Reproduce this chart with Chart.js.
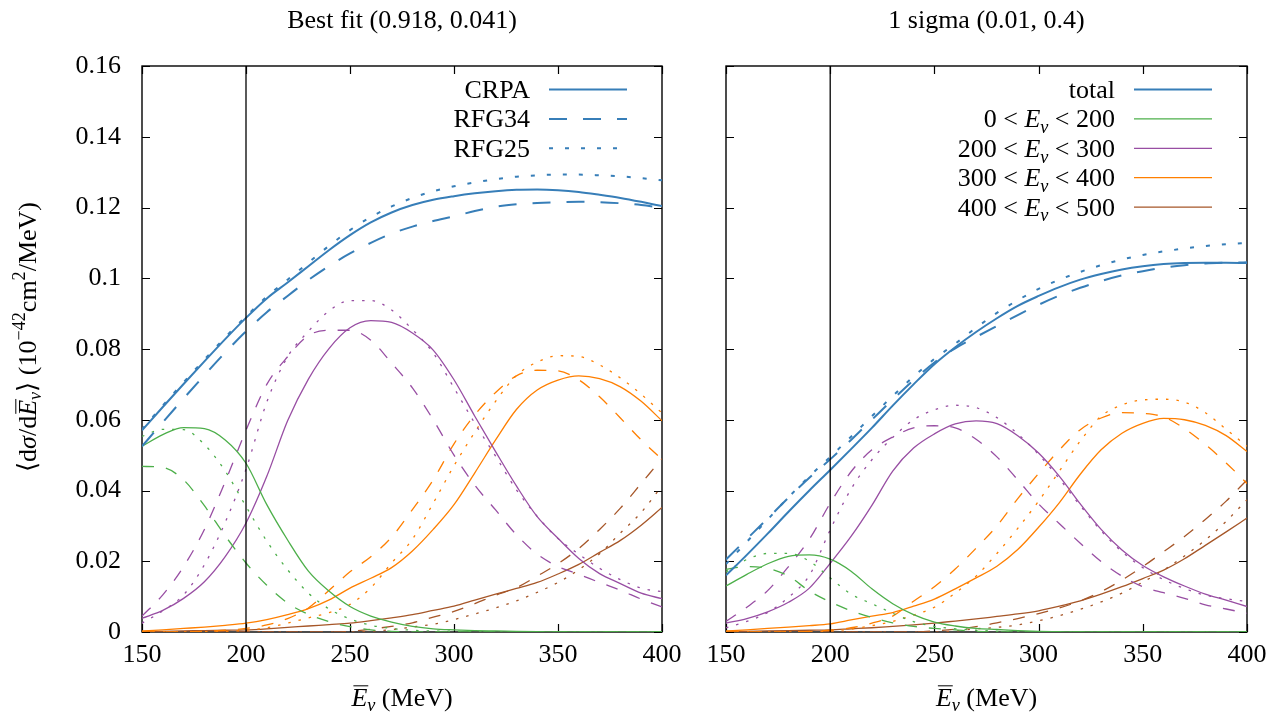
<!DOCTYPE html>
<html>
<head>
<meta charset="utf-8">
<script src="https://cdn.jsdelivr.net/npm/chart.js@4.4.1/dist/chart.umd.min.js"></script>
<style>
  html, body { margin: 0; padding: 0; background: #fff; }
  #wrap { position: relative; width: 1278px; height: 717px; }
  #wrap canvas { position: absolute; left: 0; top: 0; }
</style>
</head>
<body>
<div id="wrap">
  <canvas id="left" width="1278" height="717"></canvas>
  <canvas id="right" width="1278" height="717"></canvas>
</div>
<script>
// MARK: Data
const energies = [150, 160, 170, 180, 190, 200, 210, 220, 230, 240, 250, 260, 270,
  280, 290, 300, 310, 320, 330, 340, 350, 360, 370, 380, 390, 400];
const xTickLabels = ['150', '200', '250', '300', '350', '400'];
const yTickLabels = ['0', '0.02', '0.04', '0.06', '0.08', '0.1', '0.12', '0.14', '0.16'];
const markerEnergy = 200;

// Best fit (0.918, 0.041)
const bestTotCRPA = [0.0570, 0.0636, 0.0701, 0.0765, 0.0828, 0.0888, 0.0943, 0.0988, 0.1034, 0.1080, 0.1122, 0.1158, 0.1186, 0.1207, 0.1222, 0.1232, 0.1240, 0.1246, 0.1250, 0.1251, 0.1249, 0.1244, 0.1236, 0.1227, 0.1216, 0.1204];
const bestTotRFG34 = [0.0525, 0.0593, 0.0660, 0.0726, 0.0790, 0.0850, 0.0904, 0.0950, 0.0995, 0.1035, 0.1070, 0.1100, 0.1126, 0.1146, 0.1162, 0.1175, 0.1190, 0.1202, 0.1209, 0.1213, 0.1215, 0.1216, 0.1215, 0.1212, 0.1207, 0.1199];
const bestTotRFG25 = [0.0573, 0.0640, 0.0706, 0.0770, 0.0833, 0.0892, 0.0948, 0.0996, 0.1044, 0.1092, 0.1136, 0.1173, 0.1203, 0.1227, 0.1246, 0.1260, 0.1271, 0.1280, 0.1287, 0.1291, 0.1293, 0.1293, 0.1291, 0.1288, 0.1283, 0.1277];

const best0CRPA = [0.0525, 0.0558, 0.0578, 0.0575, 0.0543, 0.0477, 0.0360, 0.0260, 0.0172, 0.0115, 0.0072, 0.0045, 0.0028, 0.0016, 0.0009, 0.0006, 0.0004, 0.0003, 0.0002, 0.0001, 0, 0, 0, 0, 0, 0];
const best0RFG34 = [0.0468, 0.0465, 0.0430, 0.0357, 0.0272, 0.0195, 0.0132, 0.0082, 0.0050, 0.0029, 0.0015, 0.0006, 0.0002, 0, 0, 0, 0, 0, 0, 0, 0, 0, 0, 0, 0, 0];
const best0RFG25 = [0.0553, 0.0573, 0.0572, 0.0530, 0.0455, 0.0355, 0.0257, 0.0176, 0.0110, 0.0065, 0.0037, 0.0019, 0.0010, 0.0005, 0.0003, 0.0002, 0.0001, 0, 0, 0, 0, 0, 0, 0, 0, 0];

const best1CRPA = [0.0039, 0.0061, 0.0095, 0.0142, 0.0213, 0.0308, 0.0440, 0.0597, 0.0715, 0.0802, 0.0860, 0.0880, 0.0875, 0.0845, 0.0797, 0.0713, 0.0610, 0.0510, 0.0413, 0.0326, 0.0265, 0.0208, 0.0165, 0.0137, 0.0110, 0.0094];
const best1RFG34 = [0.0045, 0.0105, 0.0185, 0.0290, 0.0425, 0.0570, 0.0700, 0.0778, 0.0838, 0.0853, 0.0853, 0.0825, 0.0760, 0.0690, 0.0600, 0.0500, 0.0415, 0.0345, 0.0275, 0.0220, 0.0185, 0.0163, 0.0140, 0.0118, 0.0093, 0.0071];
const best1RFG25 = [0.0025, 0.0060, 0.0105, 0.0190, 0.0310, 0.0460, 0.0650, 0.0778, 0.0850, 0.0908, 0.0937, 0.0937, 0.0910, 0.0855, 0.0789, 0.0690, 0.0590, 0.0497, 0.0402, 0.0327, 0.0264, 0.0220, 0.0180, 0.0148, 0.0124, 0.0114];

const best2CRPA = [0.0003, 0.0006, 0.0010, 0.0014, 0.0019, 0.0025, 0.0035, 0.0049, 0.0066, 0.0091, 0.0124, 0.0152, 0.0182, 0.0229, 0.0290, 0.0360, 0.0450, 0.0543, 0.0629, 0.0684, 0.0712, 0.0724, 0.0716, 0.0693, 0.0652, 0.0597];
const best2RFG34 = [0, 0, 0.0001, 0.0002, 0.0005, 0.0010, 0.0020, 0.0038, 0.0068, 0.0118, 0.0170, 0.0213, 0.0268, 0.0346, 0.0430, 0.0532, 0.0614, 0.0677, 0.0724, 0.0740, 0.0738, 0.0713, 0.0665, 0.0605, 0.0543, 0.0488];
const best2RFG25 = [0, 0, 0, 0.0001, 0.0002, 0.0005, 0.0012, 0.0025, 0.0040, 0.0055, 0.0078, 0.0125, 0.0195, 0.0262, 0.0364, 0.0470, 0.0565, 0.0652, 0.0725, 0.0763, 0.0781, 0.0779, 0.0755, 0.0718, 0.0672, 0.0619];

const best3CRPA = [0.0001, 0.0002, 0.0003, 0.0004, 0.0005, 0.0006, 0.0009, 0.0013, 0.0017, 0.0021, 0.0025, 0.0032, 0.0040, 0.0049, 0.0061, 0.0073, 0.0090, 0.0107, 0.0123, 0.0140, 0.0164, 0.0191, 0.0225, 0.0259, 0.0302, 0.0352];
const best3RFG34 = [0, 0, 0, 0, 0, 0, 0, 0, 0, 0, 0.0002, 0.0008, 0.0016, 0.0026, 0.0042, 0.0058, 0.0080, 0.0104, 0.0125, 0.0158, 0.0193, 0.0236, 0.0290, 0.0350, 0.0420, 0.0490];
const best3RFG25 = [0, 0, 0, 0, 0, 0, 0, 0, 0, 0, 0, 0.0002, 0.0007, 0.0014, 0.0022, 0.0035, 0.0051, 0.0068, 0.0088, 0.0112, 0.0140, 0.0176, 0.0221, 0.0280, 0.0338, 0.0413];

// 1 sigma (0.01, 0.4)
const sigTotCRPA = [0.0160, 0.0218, 0.0278, 0.0340, 0.0400, 0.0458, 0.0517, 0.0577, 0.0640, 0.0700, 0.0757, 0.0805, 0.0848, 0.0887, 0.0922, 0.0950, 0.0975, 0.0996, 0.1012, 0.1025, 0.1034, 0.1040, 0.1043, 0.1044, 0.1044, 0.1043];
const sigTotRFG34 = [0.0205, 0.0263, 0.0321, 0.0380, 0.0436, 0.0488, 0.0543, 0.0600, 0.0657, 0.0712, 0.0762, 0.0802, 0.0834, 0.0865, 0.0896, 0.0925, 0.0951, 0.0973, 0.0992, 0.1008, 0.1020, 0.1030, 0.1037, 0.1042, 0.1044, 0.1045];
const sigTotRFG25 = [0.0192, 0.0255, 0.0318, 0.0381, 0.0440, 0.0495, 0.0552, 0.0610, 0.0667, 0.0722, 0.0772, 0.0815, 0.0860, 0.0902, 0.0938, 0.0970, 0.0996, 0.1018, 0.1037, 0.1053, 0.1066, 0.1076, 0.1084, 0.1091, 0.1096, 0.1100];

const sig0CRPA = [0.0130, 0.0163, 0.0193, 0.0214, 0.0218, 0.0206, 0.0172, 0.0122, 0.0080, 0.0049, 0.0028, 0.0017, 0.0010, 0.0007, 0.0004, 0.0002, 0.0001, 0, 0, 0, 0, 0, 0, 0, 0, 0];
const sig0RFG34 = [0.0177, 0.0185, 0.0180, 0.0158, 0.0116, 0.0085, 0.0060, 0.0041, 0.0026, 0.0016, 0.0010, 0.0006, 0.0002, 0, 0, 0, 0, 0, 0, 0, 0, 0, 0, 0, 0, 0];
const sig0RFG25 = [0.0170, 0.0205, 0.0222, 0.0222, 0.0200, 0.0153, 0.0107, 0.0080, 0.0053, 0.0029, 0.0016, 0.0009, 0.0005, 0.0002, 0.0001, 0, 0, 0, 0, 0, 0, 0, 0, 0, 0, 0];

const sig1CRPA = [0.0025, 0.0038, 0.0057, 0.0084, 0.0124, 0.0194, 0.0270, 0.0358, 0.0455, 0.0520, 0.0560, 0.0588, 0.0597, 0.0589, 0.0555, 0.0506, 0.0440, 0.0362, 0.0290, 0.0232, 0.0188, 0.0156, 0.0130, 0.0107, 0.0090, 0.0072];
const sig1RFG34 = [0.0030, 0.0070, 0.0117, 0.0185, 0.0262, 0.0364, 0.0453, 0.0515, 0.0551, 0.0577, 0.0583, 0.0577, 0.0545, 0.0495, 0.0430, 0.0362, 0.0306, 0.0251, 0.0199, 0.0158, 0.0128, 0.0111, 0.0095, 0.0077, 0.0065, 0.0053];
const sig1RFG25 = [0.0012, 0.0030, 0.0055, 0.0098, 0.0160, 0.0289, 0.0404, 0.0487, 0.0550, 0.0600, 0.0628, 0.0641, 0.0634, 0.0606, 0.0560, 0.0502, 0.0433, 0.0357, 0.0286, 0.0227, 0.0182, 0.0148, 0.0123, 0.0104, 0.0094, 0.0086];

const sig2CRPA = [0.0003, 0.0006, 0.0010, 0.0014, 0.0018, 0.0023, 0.0034, 0.0045, 0.0055, 0.0073, 0.0093, 0.0122, 0.0153, 0.0186, 0.0233, 0.0296, 0.0366, 0.0446, 0.0515, 0.0562, 0.0590, 0.0604, 0.0600, 0.0584, 0.0555, 0.0510];
const sig2RFG34 = [0, 0, 0, 0.0001, 0.0002, 0.0005, 0.0012, 0.0025, 0.0045, 0.0087, 0.0128, 0.0178, 0.0237, 0.0300, 0.0377, 0.0448, 0.0515, 0.0572, 0.0605, 0.0620, 0.0618, 0.0608, 0.0575, 0.0530, 0.0478, 0.0420];
const sig2RFG25 = [0, 0, 0, 0, 0.0001, 0.0003, 0.0008, 0.0018, 0.0030, 0.0048, 0.0070, 0.0110, 0.0158, 0.0222, 0.0293, 0.0370, 0.0455, 0.0540, 0.0610, 0.0642, 0.0656, 0.0658, 0.0650, 0.0620, 0.0573, 0.0525];

const sig3CRPA = [0.0001, 0.0002, 0.0003, 0.0004, 0.0005, 0.0006, 0.0009, 0.0012, 0.0016, 0.0020, 0.0025, 0.0031, 0.0037, 0.0044, 0.0051, 0.0060, 0.0073, 0.0088, 0.0107, 0.0128, 0.0151, 0.0175, 0.0207, 0.0245, 0.0283, 0.0322];
const sig3RFG34 = [0, 0, 0, 0, 0, 0, 0, 0, 0, 0, 0.0003, 0.0008, 0.0015, 0.0026, 0.0038, 0.0052, 0.0068, 0.0088, 0.0114, 0.0147, 0.0185, 0.0227, 0.0270, 0.0318, 0.0370, 0.0430];
const sig3RFG25 = [0, 0, 0, 0, 0, 0, 0, 0, 0, 0, 0, 0.0003, 0.0009, 0.0013, 0.0020, 0.0032, 0.0046, 0.0064, 0.0085, 0.0110, 0.0141, 0.0175, 0.0215, 0.0260, 0.0313, 0.0374];

// MARK: Styles
const serif = "'Liberation Serif', 'DejaVu Serif', serif";
const fontSize = 26;
const binColors = ['#377eb8', '#4daf4a', '#984ea3', '#ff7f00', '#a65628'];

function modelStyle(model, thick) {
  if (model === 'RFG34') return thick ? [18, 16] : [12, 12];
  if (model === 'RFG25') return thick ? [4, 12] : [2.5, 8];
  return [];
}

function makeDatasets(bins) {
  const sets = [{
    data: [{ x: markerEnergy, y: 0 }, { x: markerEnergy, y: 0.16 }],
    borderColor: '#000', borderWidth: 1.3, pointRadius: 0
  }];
  bins.forEach((bin, b) => {
    ['CRPA', 'RFG34', 'RFG25'].forEach(model => {
      sets.push({
        data: energies.map((e, i) => ({ x: e, y: bin[model][i] })),
        borderColor: binColors[b],
        borderWidth: b === 0 ? 2 : 1.3,
        borderDash: modelStyle(model, b === 0),
        pointRadius: 0,
        cubicInterpolationMode: 'monotone'
      });
    });
  });
  return sets;
}

// MARK: Rich text (math-like labels)
function segFont(s, size) {
  const sz = (s.sub || s.sup) ? size * 0.7 : size;
  return (s.it ? 'italic ' : '') + sz + 'px ' + serif;
}

function drawRich(ctx, segs, x, y, align, size) {
  ctx.save();
  ctx.textBaseline = 'alphabetic';
  ctx.textAlign = 'left';
  let total = 0;
  const widths = segs.map(s => { ctx.font = segFont(s, size); const w = ctx.measureText(s.t).width; total += w; return w; });
  let cx = align === 'right' ? x - total : align === 'center' ? x - total / 2 : x;
  const base = y + size * 0.33;
  segs.forEach((s, i) => {
    ctx.font = segFont(s, size);
    const dy = s.sub ? size * 0.22 : s.sup ? -size * 0.4 : 0;
    ctx.fillText(s.t, cx, base + dy);
    if (s.over) {
      ctx.beginPath();
      ctx.lineWidth = 1;
      ctx.moveTo(cx + 2, base - size * 0.76);
      ctx.lineTo(cx + widths[i] + 1, base - size * 0.76);
      ctx.stroke();
    }
    cx += widths[i];
  });
  ctx.restore();
}

const Ebar = [{ t: 'E', it: true, over: true }, { t: 'ν', it: true, sub: true }];
const xTitleSegs = [...Ebar, { t: ' (MeV)' }];
const yTitleSegs = [{ t: '⟨d' }, { t: 'σ', it: true }, { t: '/d' }, ...Ebar,
  { t: '⟩ (10' }, { t: '−42', sup: true }, { t: 'cm' }, { t: '2', sup: true }, { t: '/MeV)' }];
const Enu = [{ t: 'E', it: true }, { t: 'ν', it: true, sub: true }];
const rangeSegs = (lo, hi) => [{ t: lo + ' < ' }, ...Enu, { t: ' < ' + hi }];

// legend rows: label segments and the dataset they describe
const extras = {
  left: {
    yTitle: true,
    legend: [
      { segs: [{ t: 'CRPA' }], ds: 1 },
      { segs: [{ t: 'RFG34' }], ds: 2 },
      { segs: [{ t: 'RFG25' }], ds: 3 }
    ]
  },
  right: {
    yTitle: false,
    legend: [
      { segs: [{ t: 'total' }], ds: 1 },
      { segs: rangeSegs(0, 200), ds: 4 },
      { segs: rangeSegs(200, 300), ds: 7 },
      { segs: rangeSegs(300, 400), ds: 10 },
      { segs: rangeSegs(400, 500), ds: 13 }
    ]
  }
};

const decorPlugin = {
  id: 'panelDecor',
  beforeDatasetsDraw(chart) {
    const { ctx, chartArea: a, scales: { x, y } } = chart;
    ctx.save();
    ctx.strokeStyle = '#000';
    ctx.lineWidth = 1.4;
    ctx.strokeRect(a.left, a.top, a.right - a.left, a.bottom - a.top);
    ctx.lineWidth = 1.2;
    ctx.beginPath();
    y.ticks.forEach(t => {
      const py = Math.round(y.getPixelForValue(t.value)) + 0.5;
      ctx.moveTo(a.left, py); ctx.lineTo(a.left + 8, py);
      ctx.moveTo(a.right, py); ctx.lineTo(a.right - 8, py);
    });
    x.ticks.forEach(t => {
      const px = Math.round(x.getPixelForValue(t.value)) + 0.5;
      ctx.moveTo(px, a.bottom); ctx.lineTo(px, a.bottom - 8);
      ctx.moveTo(px, a.top); ctx.lineTo(px, a.top + 8);
    });
    ctx.stroke();
    ctx.restore();
  },
  afterDatasetsDraw(chart) {
    const { ctx, chartArea: a } = chart;
    const ex = extras[chart.canvas.id];
    ctx.save();
    ctx.fillStyle = '#000';
    ctx.strokeStyle = '#000';
    ex.legend.forEach((row, i) => {
      const yy = a.top + 23.5 + i * 29.4;
      drawRich(ctx, row.segs, a.right - 132, yy, 'right', fontSize);
      const ds = chart.data.datasets[row.ds];
      ctx.save();
      ctx.strokeStyle = ds.borderColor;
      ctx.lineWidth = ds.borderWidth;
      ctx.setLineDash(ds.borderDash || []);
      ctx.beginPath();
      ctx.moveTo(a.right - 113, yy);
      ctx.lineTo(a.right - 35, yy);
      ctx.stroke();
      ctx.restore();
    });
    drawRich(ctx, xTitleSegs, (a.left + a.right) / 2, 697, 'center', fontSize);
    if (ex.yTitle) {
      ctx.save();
      ctx.translate(27, 337);
      ctx.rotate(-Math.PI / 2);
      drawRich(ctx, yTitleSegs, 0, 0, 'center', fontSize);
      ctx.restore();
    }
    ctx.restore();
  }
};

// MARK: Charts
function buildPanel(id, title, bins, padding, yAxisWidth) {
  return new Chart(document.getElementById(id), {
    type: 'line',
    data: { datasets: makeDatasets(bins) },
    options: {
      responsive: false,
      animation: false,
      events: [],
      layout: { padding },
      plugins: {
        legend: { display: false },
        tooltip: { enabled: false },
        title: {
          display: true,
          text: title,
          fullSize: false,
          color: '#000',
          font: { family: serif, size: fontSize, weight: 'normal' },
          padding: { top: 6, bottom: 28.8 }
        }
      },
      scales: {
        x: {
          type: 'linear', min: 150, max: 400,
          ticks: {
            stepSize: 50, padding: 8, color: '#000',
            font: { family: serif, size: fontSize },
            callback: (v, i) => xTickLabels[i]
          },
          grid: { display: false, drawTicks: false },
          border: { display: false },
          afterFit: s => { s.height = 85; }
        },
        y: {
          min: 0, max: 0.16,
          ticks: {
            display: yAxisWidth > 0,
            stepSize: 0.02, padding: 21, color: '#000',
            font: { family: serif, size: fontSize },
            callback: (v, i) => yTickLabels[i]
          },
          grid: { display: false, drawTicks: false },
          border: { display: false },
          afterFit: s => { s.width = yAxisWidth; }
        }
      }
    },
    plugins: [decorPlugin]
  });
}

buildPanel('left', 'Best fit (0.918, 0.041)', [
  { CRPA: bestTotCRPA, RFG34: bestTotRFG34, RFG25: bestTotRFG25 },
  { CRPA: best0CRPA, RFG34: best0RFG34, RFG25: best0RFG25 },
  { CRPA: best1CRPA, RFG34: best1RFG34, RFG25: best1RFG25 },
  { CRPA: best2CRPA, RFG34: best2RFG34, RFG25: best2RFG25 },
  { CRPA: best3CRPA, RFG34: best3RFG34, RFG25: best3RFG25 }
], { left: 0, right: 616, top: 0, bottom: 0 }, 142);

buildPanel('right', '1 sigma (0.01, 0.4)', [
  { CRPA: sigTotCRPA, RFG34: sigTotRFG34, RFG25: sigTotRFG25 },
  { CRPA: sig0CRPA, RFG34: sig0RFG34, RFG25: sig0RFG25 },
  { CRPA: sig1CRPA, RFG34: sig1RFG34, RFG25: sig1RFG25 },
  { CRPA: sig2CRPA, RFG34: sig2RFG34, RFG25: sig2RFG25 },
  { CRPA: sig3CRPA, RFG34: sig3RFG34, RFG25: sig3RFG25 }
], { left: 726, right: 31, top: 0, bottom: 0 }, 0);
</script>
</body>
</html>
